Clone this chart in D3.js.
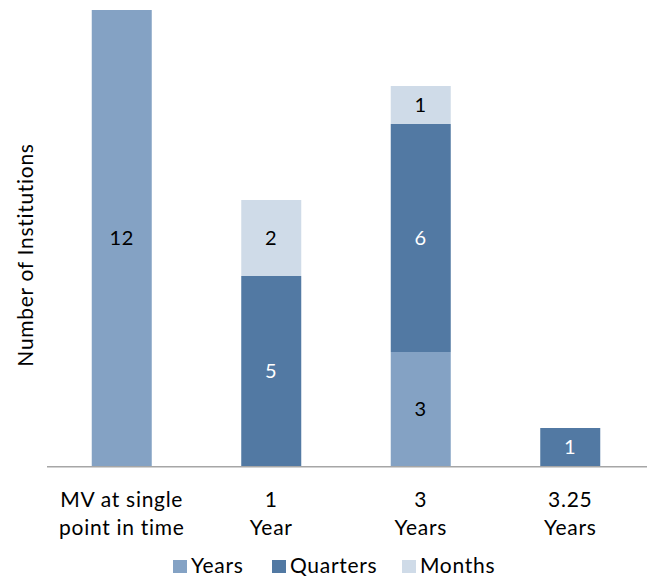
<!DOCTYPE html>
<html>
<head>
<meta charset="utf-8">
<script src="https://cdn.jsdelivr.net/npm/d3@7"></script>
<style>
  html, body { margin: 0; padding: 0; background: #fff; }
  svg { display: block; font-family: "Source Sans Pro", Lato, "Noto Sans", sans-serif; }
  svg text { letter-spacing: 0.7px; }
</style>
</head>
<body>
<svg id="chart" width="647" height="580"></svg>
<script>
// Categories (two-line tick labels) and stacked series values
const categories = ["MV at single point in time", "1 Year", "3 Years", "3.25 Years"];
const categoryLines = [["MV at single", "point in time"], ["1", "Year"], ["3", "Years"], ["3.25", "Years"]];
const seriesNames = ["Years", "Quarters", "Months"];
const yearsValues = [12, 0, 3, 0];
const quartersValues = [0, 5, 6, 1];
const monthsValues = [0, 2, 1, 0];
const seriesColors = ["#84a2c4", "#5279a3", "#cfdbe8"];
const labelColors = ["#000", "#fff", "#000"];

const rows = categories.map((c, i) => ({
  category: c,
  Years: yearsValues[i],
  Quarters: quartersValues[i],
  Months: monthsValues[i]
}));

const svg = d3.select("#chart");
const margin = { left: 47, right: 2, top: 10, bottom: 114 };
const W = 647, H = 580;

const x = d3.scaleBand()
  .domain(categories)
  .range([margin.left, W - margin.right])
  .paddingInner(0.6)
  .paddingOuter(0.3);

const y = d3.scaleLinear()
  .domain([0, 12])
  .range([H - margin.bottom, margin.top]);

const stacked = d3.stack().keys(seriesNames)(rows);

const barW = 60;
const g = svg.append("g");

stacked.forEach((layer, si) => {
  const lg = g.append("g");
  layer.forEach((d, ci) => {
    const v = d[1] - d[0];
    if (v <= 0) return;
    const cx = x(categories[ci]) + x.bandwidth() / 2;
    lg.append("rect")
      .attr("x", cx - barW / 2)
      .attr("y", y(d[1]))
      .attr("width", barW)
      .attr("height", y(d[0]) - y(d[1]))
      .attr("fill", seriesColors[si]);
    lg.append("text")
      .attr("x", cx)
      .attr("y", (y(d[0]) + y(d[1])) / 2)
      .attr("dy", "0.36em")
      .attr("text-anchor", "middle")
      .attr("font-size", 20)
      .attr("fill", labelColors[si])
      .text(v);
  });
});

// Category axis line
svg.append("line")
  .attr("x1", margin.left).attr("x2", W)
  .attr("y1", y(0) + 0.75).attr("y2", y(0) + 0.75)
  .attr("stroke", "#a6a6a6").attr("stroke-width", 1.5);

// Tick labels (two lines each)
categoryLines.forEach((lines, i) => {
  const cx = x(categories[i]) + x.bandwidth() / 2;
  const t = svg.append("text")
    .attr("text-anchor", "middle")
    .attr("font-size", 21)
    .attr("fill", "#000");
  lines.forEach((ln, j) => {
    t.append("tspan").attr("x", cx).attr("y", 507 + j * 28).text(ln);
  });
});

// Y-axis title
svg.append("text")
  .attr("transform", "translate(33,255) rotate(-90)")
  .attr("text-anchor", "middle")
  .attr("font-size", 21)
  .attr("fill", "#000")
  .text("Number of Institutions");

// Legend
const legendX = [173, 272, 402];
seriesNames.forEach((name, i) => {
  const lg = svg.append("g").attr("transform", `translate(${legendX[i]},560)`);
  lg.append("rect").attr("width", 14).attr("height", 13).attr("fill", seriesColors[i]);
  lg.append("text").attr("x", 18).attr("y", 13).attr("font-size", 21).attr("fill", "#000").text(name);
});
</script>
</body>
</html>
